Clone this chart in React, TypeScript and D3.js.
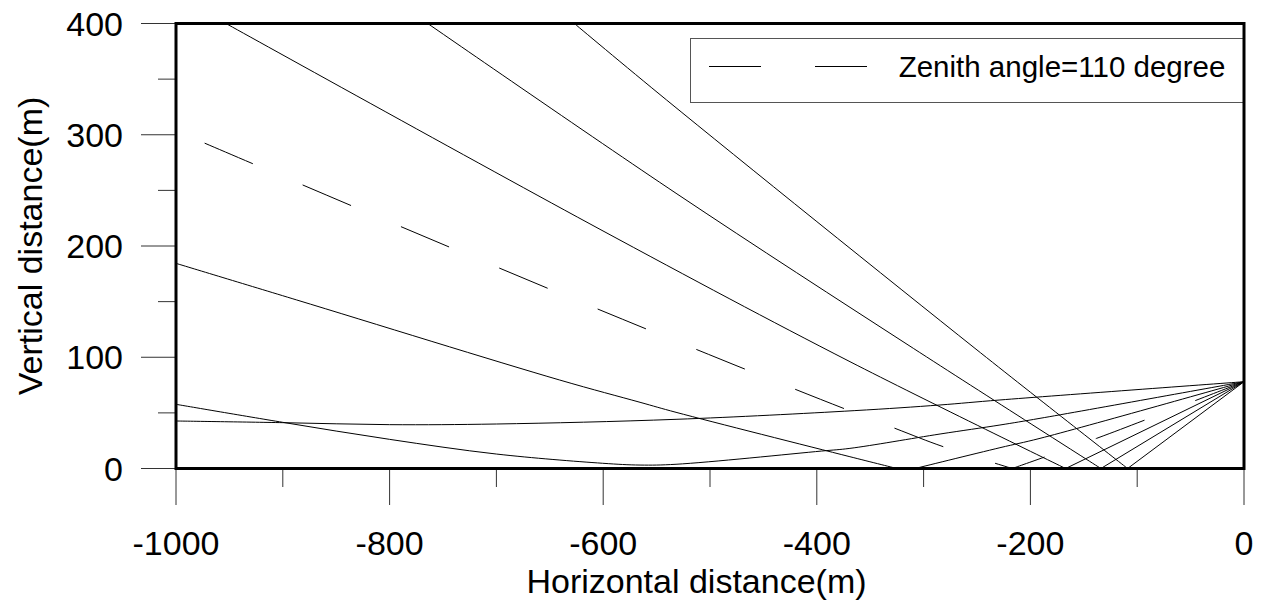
import React from "react";
import * as d3 from "d3";

// ---- data ----
type Pt = [number, number];

// near-horizontal refracted ray
const rayZ95: Pt[] = [
  [0, 78], [-228.5, 61.6], [-284.6, 57.1], [-365, 52], [-531.8, 44.2],
  [-700, 40], [-800, 39.4], [-900, 41.2], [-1000, 42.7],
];
// refracted ray that turns just above the ground
const rayZ100: Pt[] = [
  [0, 78], [-191, 45.1], [-228.5, 39.1], [-284.6, 31], [-369, 18.1],
  [-395.4, 15.7], [-531.8, 3.8], [-565.5, 3.1], [-600.5, 4.7], [-700, 13],
  [-800, 26.2], [-900, 41.5], [-1000, 57.7],
];
const rayZ105: Pt[] = [
  [0, 78], [-191, 27.1], [-228.5, 18.7], [-308, 0], [-325, 0], [-369, 10.6],
  [-531.8, 50.5], [-565.5, 59.5], [-641, 79.6], [-887, 151.5], [-1000, 184.4],
];
// dashed ray (legend: Zenith angle=110 degree)
const rayZ110: Pt[] = [
  [0, 78], [-92.7, 43.6], [-138, 27.1], [-217, 0], [-281.6, 19.6],
  [-326.8, 36.1], [-421, 71.5], [-603, 142.5], [-790.9, 218], [-975, 293.2],
  [-1000, 303.5],
];
const rayZ115: Pt[] = [
  [0, 78], [-167, 0], [-368.9, 96], [-603, 215], [-953.2, 400],
];
const rayZ120: Pt[] = [
  [0, 78], [-134, 0], [-309.6, 108], [-531.8, 247.4], [-764.3, 400],
];
const rayZ125: Pt[] = [
  [0, 78], [-109, 0], [-251.9, 108], [-540.6, 331.2], [-627, 400],
];

const solidRays: Pt[][] = [rayZ95, rayZ100, rayZ105, rayZ115, rayZ120, rayZ125];
const dashedRay: Pt[] = rayZ110;

const xTickValues = [-1000, -800, -600, -400, -200, 0];
const xTickLabels = ["-1000", "-800", "-600", "-400", "-200", "0"];
const xMinorValues = [-900, -700, -500, -300, -100];
const yTickValues = [0, 100, 200, 300, 400];
const yTickLabels = ["0", "100", "200", "300", "400"];
const yMinorValues = [50, 150, 250, 350];

const legendLabel = "Zenith angle=110 degree";
const xTitle = "Horizontal distance(m)";
const yTitle = "Vertical distance(m)";

// ---- chart ----
const W = 1265;
const H = 600;
const FONT = "'Liberation Sans', Arial, Helvetica, sans-serif";

// split a ray into pieces at ground contacts (y = 0) so reflections keep their corner
function splitAtGround(r: Pt[]): Pt[][] {
  const parts: Pt[][] = [];
  let cur: Pt[] = [];
  r.forEach((p, i) => {
    cur.push(p);
    if (p[1] === 0 && i > 0 && i < r.length - 1) {
      parts.push(cur);
      cur = [p];
    }
  });
  if (cur.length > 1) parts.push(cur);
  return parts;
}

export default function App() {
  const x = d3.scaleLinear().domain([-1000, 0]).range([176, 1244]);
  const y = d3.scaleLinear().domain([0, 400]).range([468.5, 23.5]);

  const smooth = d3
    .line<Pt>()
    .x((d) => x(d[0]))
    .y((d) => y(d[1]))
    .curve(d3.curveCatmullRom.alpha(0.5));

  const rayPath = (r: Pt[]) =>
    splitAtGround(r)
      .map((seg, i) => {
        const s = smooth(seg) || "";
        return i === 0 ? s : "L" + s.slice(1);
      })
      .join("");

  const [x0, x1] = x.range();
  const [yb, yt] = y.range();

  return (
    <svg
      width={W}
      height={H}
      style={{ position: "absolute", left: 0, top: 0, background: "#fff" }}
      fontFamily={FONT}
    >
      <defs>
        <clipPath id="plotClip">
          <rect x={x0} y={yt} width={x1 - x0} height={yb - yt} />
        </clipPath>
      </defs>
      <rect x={0} y={0} width={W} height={H} fill="#fff" />

      {/* legend box */}
      <rect x={690.5} y={38.5} width={553} height={64} fill="#fff" stroke="#555" strokeWidth={1} />
      <line x1={709} x2={867} y1={66.5} y2={66.5} stroke="#000" strokeWidth={1} strokeDasharray="52,54" />
      <text x={898.7} y={76.7} fontSize={29.5} fill="#000">
        {legendLabel}
      </text>

      {/* rays */}
      <g clipPath="url(#plotClip)" fill="none" stroke="#000" strokeWidth={1}>
        {solidRays.map((r, i) => (
          <path key={"r" + i} d={rayPath(r)} />
        ))}
        <path d={rayPath(dashedRay)} strokeDasharray="52.3,54.3" />
      </g>

      {/* ticks */}
      <g stroke="#333" strokeWidth={1}>
        {yTickValues.map((v) => (
          <line key={"yt" + v} x1={141} x2={x0} y1={y(v)} y2={y(v)} />
        ))}
        {yMinorValues.map((v) => (
          <line key={"ym" + v} x1={158} x2={x0} y1={y(v)} y2={y(v)} />
        ))}
        {xTickValues.map((v) => (
          <line key={"xt" + v} x1={x(v)} x2={x(v)} y1={yb} y2={505} />
        ))}
        {xMinorValues.map((v) => (
          <line key={"xm" + v} x1={x(v)} x2={x(v)} y1={yb} y2={487} />
        ))}
      </g>

      {/* frame */}
      <rect x={x0} y={yt} width={x1 - x0} height={yb - yt} fill="none" stroke="#000" strokeWidth={3} />

      {/* tick labels */}
      {yTickValues.map((v, i) => (
        <text key={"yl" + v} x={123} y={y(v) + 12} fontSize={34} textAnchor="end" fill="#000">
          {yTickLabels[i]}
        </text>
      ))}
      {xTickValues.map((v, i) => (
        <text key={"xl" + v} x={x(v)} y={555} fontSize={34} textAnchor="middle" fill="#000">
          {xTickLabels[i]}
        </text>
      ))}

      {/* axis titles */}
      <text x={696.5} y={593} fontSize={34} textAnchor="middle" fill="#000">
        {xTitle}
      </text>
      <text transform="translate(42,246) rotate(-90)" fontSize={34} textAnchor="middle" fill="#000">
        {yTitle}
      </text>
    </svg>
  );
}
